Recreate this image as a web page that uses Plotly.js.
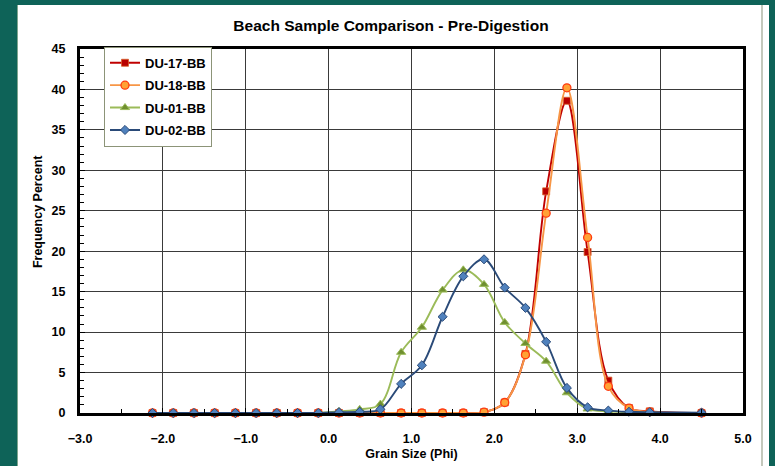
<!DOCTYPE html>
<html>
<head>
<meta charset="utf-8">
<script src="https://cdn.plot.ly/plotly-3.0.1.min.js"></script>
<style>
  html, body { margin: 0; padding: 0; width: 775px; height: 466px; background: #0e6358; overflow: hidden; }
  #wrap { position: absolute; left: 17px; top: 5px; width: 752px; height: 461px; background: #ffffff; border-left: 1px solid #7fa58e; box-sizing: border-box; }
  #chart { position: absolute; left: 0; top: 0; width: 743px; height: 461px; border-right: 2px solid #c4c8bc; }
</style>
</head>
<body>
<div id="wrap"><div id="chart"></div></div>
<script>
// Grain size (phi) class midpoints
const phi = [-2.125, -1.875, -1.625, -1.375, -1.125, -0.875, -0.625, -0.375, -0.125,
             0.125, 0.375, 0.625, 0.875, 1.125, 1.375, 1.625, 1.875, 2.125, 2.375,
             2.625, 2.875, 3.125, 3.375, 3.625, 3.875, 4.5];

const du17 = [0, 0, 0, 0, 0, 0, 0, 0, 0, 0, 0, 0, 0, 0, 0, 0, 0.1, 1.3, 7.3, 27.4, 38.6, 19.9, 4.0, 0.6, 0.2, 0.0];
const du18 = [0, 0, 0, 0, 0, 0, 0, 0, 0, 0, 0, 0, 0, 0, 0, 0, 0.1, 1.3, 7.2, 24.7, 40.2, 21.7, 3.3, 0.6, 0.15, 0.0];
const du01 = [0, 0, 0, 0, 0, 0, 0, 0, 0, 0.2, 0.45, 1.1, 7.5, 10.6, 15.2, 17.7, 15.9, 11.2, 8.6, 6.4, 2.5, 0.5, 0.2, 0.1, 0.0, 0.0];
const du02 = [0, 0, 0, 0, 0, 0, 0, 0, 0, 0.1, 0.15, 0.45, 3.6, 5.9, 11.9, 16.9, 19.0, 15.5, 13.0, 8.8, 3.1, 0.7, 0.3, 0.15, 0.1, 0.05];

const seriesNames = ['DU-17-BB', 'DU-18-BB', 'DU-01-BB', 'DU-02-BB'];

const FONT = 'Liberation Sans, Arial, Helvetica, sans-serif';

function tr(name, y, lineColor, sym, size, fill, edge, edgeW) {
  return {
    x: phi, y: y, name: name, type: 'scatter', mode: 'lines+markers',
    legendgroup: name, cliponaxis: false,
    line: { color: lineColor, width: 1.9, shape: 'spline', smoothing: 1 },
    marker: { symbol: sym, size: size, color: fill, line: { color: edge, width: edgeW } }
  };
}

const data = [
  tr(seriesNames[0], du17, '#c00000', 'square', 7, '#b80000', '#d8602a', 0.8),
  tr(seriesNames[1], du18, '#f79646', 'circle', 8, '#ffa235', '#ff3a10', 1.3),
  tr(seriesNames[2], du01, '#9bbb59', 'triangle-up', 8, '#6f8f2f', '#9bbb59', 1),
  tr(seriesNames[3], du02, '#2a4a78', 'diamond', 7, '#4f81bd', '#2a4a78', 1)
];

const layout = {
  width: 743, height: 461,
  margin: { l: 62, r: 18, t: 44, b: 53, pad: 0 },
  paper_bgcolor: '#ffffff', plot_bgcolor: '#ffffff',
  font: { family: FONT, size: 12, color: '#000000', weight: 'bold' },
  title: {
    text: 'Beach Sample Comparison - Pre-Digestion',
    font: { family: FONT, size: 15.5, color: '#000000', weight: 'bold' },
    xref: 'container', x: 0.502, xanchor: 'center',
    yref: 'container', y: 0.9544, yanchor: 'middle'
  },
  showlegend: true,
  legend: {
    x: 0.0362, xanchor: 'left', y: 1.006, yanchor: 'top',
    bgcolor: '#ffffff', bordercolor: '#8c9478', borderwidth: 1,
    font: { family: FONT, size: 13, color: '#000000', weight: 'bold' },
    traceorder: 'grouped', tracegroupgap: 2.5, itemwidth: 30
  },
  xaxis: {
    range: [-3, 5], dtick: 1, tick0: 0, tickformat: '.1f',
    showline: true, linecolor: '#000000', linewidth: 3, mirror: true,
    showgrid: true, gridcolor: '#3a3a3a', gridwidth: 1, zeroline: false,
    ticks: 'inside', ticklen: 5, tickcolor: '#000000', tickwidth: 1,
    minor: { dtick: 0.5, ticks: 'inside', ticklen: 4, tickcolor: '#000000', showgrid: false },
    ticklabelstandoff: 12,
    tickfont: { family: FONT, size: 12.5, color: '#000000', weight: 'bold' },
    title: { text: 'Grain Size (Phi)', standoff: 5, font: { family: FONT, size: 12.5, color: '#000000', weight: 'bold' } },
    automargin: false, fixedrange: true
  },
  yaxis: {
    range: [0, 45], dtick: 5, tick0: 0,
    showline: true, linecolor: '#000000', linewidth: 3, mirror: true,
    showgrid: true, gridcolor: '#3a3a3a', gridwidth: 1, zeroline: false,
    ticks: 'inside', ticklen: 5, tickcolor: '#000000', tickwidth: 1,
    minor: { dtick: 1, ticks: 'inside', ticklen: 4, tickcolor: '#000000', showgrid: false },
    ticklabelstandoff: 9,
    tickfont: { family: FONT, size: 12.5, color: '#000000', weight: 'bold' },
    automargin: false, fixedrange: true
  },
  annotations: [{
    text: 'Frequency Percent', textangle: -90, showarrow: false,
    xref: 'paper', yref: 'paper', x: -0.0633, y: 0.552, xanchor: 'center', yanchor: 'middle',
    font: { family: FONT, size: 12.5, color: '#000000', weight: 'bold' }
  }]
};

Plotly.newPlot('chart', data, layout, { staticPlot: true, displayModeBar: false });
</script>
</body>
</html>
